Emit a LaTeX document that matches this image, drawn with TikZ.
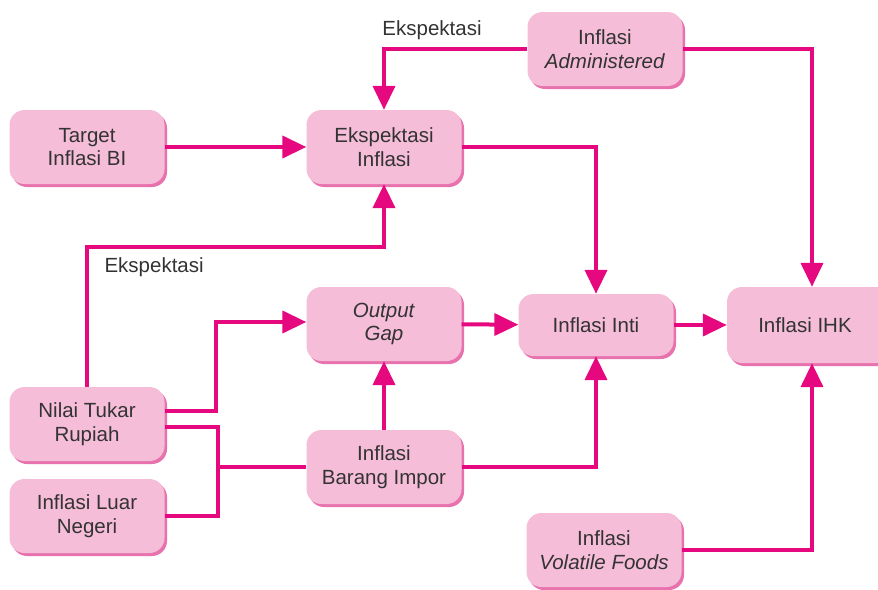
\documentclass[tikz,border=0pt]{standalone}
\usepackage{fontspec}
\setmainfont{Liberation Sans}
\usetikzlibrary{arrows.meta,shadows}
\definecolor{boxpink}{HTML}{F5BDD8}
\definecolor{boxshade}{HTML}{E872AE}
\definecolor{linkpink}{HTML}{E6087F}
\definecolor{textgray}{HTML}{333333}
\begin{document}
\begin{tikzpicture}[x=1pt, y=-1pt,
    pinkbox/.style={rounded corners=15pt, fill=boxpink, text=textgray,
        minimum width=155pt, minimum height=74pt, align=center,
        font=\fontsize{20.5}{23.5}\selectfont,
        drop shadow={shadow xshift=2.5pt, shadow yshift=-3pt, fill=boxshade, opacity=1}},
    link/.style={draw=linkpink, line width=4pt},
    flow/.style={link, -{Triangle[length=24pt,width=22pt]}},
    tag/.style={text=textgray, font=\fontsize{20.5}{23.5}\selectfont}]
    \useasboundingbox (0,0) rectangle (878,589);

    % Boxes
    \node[pinkbox] (target) at (87,147) {Target\\Inflasi BI};
    \node[pinkbox] (ekspektasi) at (384,147) {Ekspektasi\\Inflasi};
    \node[pinkbox] (admin) at (605,49) {Inflasi\\\textit{Administered}};
    \node[pinkbox] (output) at (384,324) {\textit{Output}\\\textit{Gap}};
    \node[pinkbox, minimum height=62pt] (inti) at (596,325) {Inflasi Inti};
    \node[pinkbox, minimum width=170pt, minimum height=76pt] (ihk) at (812,325) {\hspace*{-14pt}Inflasi IHK};
    \node[pinkbox] (nilai) at (87,424) {Nilai Tukar\\Rupiah};
    \node[pinkbox] (luar) at (87,516) {Inflasi Luar\\Negeri};
    \node[pinkbox] (impor) at (384,467) {Inflasi\\Barang Impor};
    \node[pinkbox] (volatile) at (604,550) {Inflasi\\\textit{Volatile Foods}};

    % Labels on the expectation links
    \node[tag] (ektop) at (432,30) {Ekspektasi};
    \node[tag, anchor=west] (ekleft) at (101,267) {Ekspektasi};

    % Junction of the import price inputs
    \coordinate (jn) at (218,467);

    % Links
    \draw[flow] (target) -- (ekspektasi);
    \draw[flow] (admin.west) -| (ekspektasi.north);
    \draw[flow] (admin.east) -| (ihk.north);
    \draw[flow] (ekspektasi.east) -| (inti.north);
    \draw[flow] (nilai.north) -- ++(0,-140) -| (ekspektasi.south);
    \draw[flow] ([yshift=13pt]nilai.east) -- ++(51,0) |- ([yshift=2pt]output.west);
    \draw[link] ([yshift=-3pt]nilai.east) -| (jn) |- (luar.east);
    \draw[link] (jn) -- (impor.west);
    \draw[flow] (impor) -- (output);
    \draw[flow] (impor.east) -| (inti.south);
    \draw[flow] (output) -- (inti);
    \draw[flow] (inti) -- (ihk);
    \draw[flow] (volatile.east) -| (ihk.south);
\end{tikzpicture}
\end{document}
